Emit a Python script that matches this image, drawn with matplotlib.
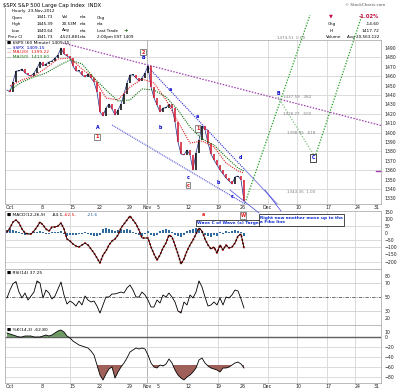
import numpy as np
import matplotlib
matplotlib.use("Agg")
import matplotlib.pyplot as plt

W, H = 400, 392
fig = plt.figure(figsize=(4.0, 3.92), dpi=100)
fig.patch.set_facecolor("white")

# ---------------- data ----------------
session = np.arange(-0.5, 39.01, 0.5)   # half-day bar times (trading days since Oct 1)
close = [1445.3, 1443.2, 1453.8, 1465.5, 1465.5, 1467.7, 1463.4, 1461.3, 1460.2, 1463.4,
         1468.7, 1475.1, 1470.8, 1473.0, 1475.1, 1476.2, 1479.4, 1482.6, 1490.0, 1483.6,
         1481.5, 1479.4, 1470.8, 1465.5, 1465.5, 1461.3, 1459.1, 1462.3, 1458.1, 1453.8,
         1443.2, 1421.9, 1417.6, 1426.2, 1430.4, 1425.1, 1418.7, 1424.0, 1430.4, 1441.1,
         1452.8, 1461.3, 1461.3, 1458.1, 1454.9, 1458.1, 1463.4, 1470.8, 1448.5, 1436.8,
         1429.4, 1421.9, 1426.2, 1426.2, 1430.4, 1426.2, 1411.3, 1390.0, 1377.2, 1376.2,
         1381.5, 1376.2, 1360.2, 1378.3, 1392.1, 1407.0, 1402.8, 1388.9, 1377.2, 1370.8,
         1365.5, 1360.2, 1355.9, 1351.7, 1348.5, 1345.3, 1352.7, 1353.8, 1349.6, 1327.2]

ma_days = [0, 2, 4, 6, 8, 10, 12, 14, 16, 18, 20, 22, 24, 26, 28, 30, 32, 34, 36, 38, 39]
ma_fast = [1449.6, 1456.0, 1460.2, 1468.7, 1478.3, 1479.4, 1467.7, 1458.1, 1436.8, 1434.7,
           1448.5, 1457.0, 1452.8, 1434.7, 1411.3, 1388.9, 1391.0, 1384.7, 1367.6, 1359.1, 1357.0]
ma_slow = [1445.3, 1453.8, 1459.1, 1463.4, 1470.8, 1477.2, 1473.0, 1458.1, 1445.3, 1433.6,
           1434.7, 1446.4, 1445.3, 1437.9, 1424.0, 1405.9, 1393.2, 1386.8, 1374.0, 1362.3, 1359.1]

macd_line = [7, 35, 77, 91, 70, 28, 0, -7, -7, 14, 42, 77, 56, 28, 14, 42, 42, 49, 70, 28,
             -42, -56, -77, -91, -98, -84, -70, -84, -112, -140, -175, -210, -154, -126, -84, -56, -42, -14, 35, 63,
             91, 119, 91, 63, 21, -35, -35, -35, -98, -147, -189, -154, -105, -70, -14, -28, -84, -147, -217, -182,
             -126, -84, -49, -7, 35, 14, -42, -84, -112, -98, -140, -84, -119, -84, -105, -98, -70, -21, -7, -105]
macd_hist = [20, 28, 21, 14, 7, -7, -14, -10, -7, 7, 10, 14, 7, -7, -10, 7, 10, 7, 14, -7,
             -21, -14, -17, -14, -10, -7, 7, -7, -14, -21, -21, -14, 28, 35, 28, 21, 14, 21, 28, 21,
             28, 21, 7, -7, -14, -21, -7, 14, -14, -21, -14, 14, 21, 28, 21, 7, -14, -21, -28, -14,
             14, 21, 28, 35, 28, 14, -14, -21, -28, -14, -21, 7, -7, 14, 7, 14, 21, 14, 7, -21]

rsi = [48.6, 60.0, 69.0, 72.0, 57.1, 48.6, 55.7, 45.7, 51.4, 57.1, 72.9, 70.0, 48.6, 60.0, 55.7,
       47.1, 51.4, 61.4, 71.4, 52.9, 40.0, 44.3, 41.4, 37.1, 44.3, 38.6, 51.4, 45.7, 42.9, 44.3,
       37.1, 27.1, 38.6, 50.0, 50.0, 54.3, 54.3, 55.7, 57.1, 55.7, 62.9, 67.1, 60.0, 50.0, 50.0,
       57.1, 52.9, 45.7, 35.7, 35.7, 45.7, 41.4, 52.9, 50.0, 55.7, 50.0, 42.9, 30.0, 27.1, 42.9,
       38.6, 52.9, 48.6, 57.1, 72.9, 64.3, 50.0, 37.1, 38.6, 42.9, 38.6, 48.6, 38.6, 50.0, 48.6,
       52.9, 60.0, 58.6, 47.1, 34.3]

osc = [8, 6, 4, 2, 0, 0, 2, 2, 2, 0, 0, 0, 2, 4, 2, 4, 8, 12, 14, 10,
       2, -2, -8, -12, -16, -18, -20, -22, -28, -36, -56, -76, -86, -74, -64, -60, -82, -70, -60, -52,
       -42, -30, -26, -22, -24, -22, -24, -36, -52, -60, -62, -56, -58, -54, -44, -52, -66, -76, -82, -86,
       -80, -76, -70, -62, -46, -42, -52, -58, -62, -64, -66, -70, -62, -62, -60, -56, -52, -50, -54, -62]

tick_days = [0, 5.33, 10.33, 15, 20, 22.83, 24.67, 29.67, 34.67, 38.83, 42.83, 48, 53, 58, 61.17]
tick_labels = ["Oct", "8", "15", "22", "29", "Nov", "5", "12", "19", "26", "Dec", "10", "17", "24", "31"]
grid_days = [10, 22.83, 34.67, 43, 47.83, 52.83, 57.5]

price_ticks = list(range(1330, 1491, 10))

# ---------------- layout helpers ----------------
def fx(px):
    return px / W

def fy(py):
    return 1 - py / H

def add_panel(top, bottom, left=5, right=381):
    return fig.add_axes([fx(left), fy(bottom), fx(right - left), (bottom - top) / H])

ax1 = add_panel(40, 204)
ax2 = add_panel(211, 269)
ax3 = add_panel(269, 325)
ax4 = add_panel(325, 383)

for ax in (ax1, ax2, ax3, ax4):
    ax.set_xlim(-0.83, 61.83)
    ax.yaxis.tick_right()
    ax.tick_params(axis="y", length=0, pad=2.5, labelsize=3.3, colors="#222222")
    ax.tick_params(axis="x", length=0, pad=1.0, labelsize=3.4, colors="#222222")
    for s in ax.spines.values():
        s.set_color("#b0b0b0")
        s.set_linewidth(0.6)
    ax.set_xticks(tick_days)
    ax.set_xticklabels(tick_labels)
    for d in grid_days:
        ax.axvline(d, color="#a8a8a8" if d == 22.83 else "#d6d6d6", lw=0.6, zorder=0)
    ax.set_facecolor("white")

for ax in (ax2, ax3):
    ax.set_xticklabels([])

# ---------------- price panel ----------------
ax1.set_ylim(1324.0, 1498.5)
ax1.set_yticks(price_ticks)
ax1.set_yticklabels([str(t) for t in price_ticks])
for g in range(1340, 1481, 20):
    ax1.axhline(g, color="#d6d6d6", lw=0.6, zorder=0)

ax1.plot(session, close, color="#1a2a8a", lw=0.5, zorder=2)
for i in range(1, len(close)):
    o, c = close[i - 1], close[i]
    col = "#d4102a" if c < o else "black"
    lo, hi = min(o, c), max(o, c)
    if hi - lo < 1.2:
        hi = lo + 1.2
    ax1.vlines(session[i], lo, hi, color=col, lw=1.1, zorder=3)

ax1.plot(ma_days, ma_fast, color="#e02020", lw=0.8, ls=(0, (1, 1)), zorder=4)
ax1.plot(ma_days, ma_slow, color="#117011", lw=0.8, ls=(0, (1, 1)), zorder=4)

# trend / channel lines
ax1.plot([8.83, 62.17], [1495.3, 1407.0], color="#a040b0", lw=0.9, ls=(0, (1.2, 1.2)), zorder=2)
ax1.plot([22.83, 39.0], [1470.8, 1361.5], color="#2a2ad0", lw=0.8, ls=(0, (1, 1)), zorder=2)
ax1.plot([39.0, 45.5], [1361.5, 1317.6], color="#9090e8", lw=0.8, zorder=2)
ax1.plot([17.0, 40.0], [1408.1, 1320.8], color="#2a2ad0", lw=0.7, ls=(0, (1, 1)), zorder=2)
# projections
ax1.plot([39.17, 50.0], [1325.1, 1525.1], color="#20a020", lw=0.9, ls=(0, (1, 1.3)), clip_on=False, zorder=2)
ax1.plot([44.67, 50.83], [1437.9, 1374.0], color="#80c080", lw=0.9, ls=(0, (1, 1.3)), zorder=2)
ax1.plot([50.83, 58.67], [1374.0, 1525.1], color="#20a020", lw=0.9, ls=(0, (1, 1.3)), clip_on=False, zorder=2)
ax1.plot([61.0, 61.83], [1359, 1359], color="#a040b0", lw=1.0, clip_on=False)

# fibonacci level labels
fib_txt = [(45.5, 1437.9, "1437.59  .382"), (45.5, 1419.8, "1418.27  .500"),
           (46.2, 1399.6, "1398.95  .618"), (46.2, 1336.8, "1343.35  1.00"),
           (44.5, 1500.6, "1474.51  0.00")]
for d, v, s in fib_txt:
    ax1.text(d, v, s, fontsize=3.0, color="#808080", va="center", ha="left", clip_on=False)

# wave labels (blue)
blue_lbl = [(14.67, 1405.9, "A"), (22.17, 1479.4, "B"), (26.67, 1445.3, "a"), (25.0, 1404.9, "b"),
            (29.67, 1352.7, "c"), (31.17, 1416.6, "a"), (34.67, 1346.4, "b"), (37.0, 1331.5, "c"),
            (38.33, 1373.0, "d"), (44.67, 1442.1, "B")]
for d, v, s in blue_lbl:
    ax1.text(d, v, s, fontsize=3.4, color="#0000cc", fontweight="bold", ha="center", va="center")
ax1.text(50.5, 1373.0, "C", fontsize=3.4, color="#0000cc", fontweight="bold", ha="center", va="center",
         bbox=dict(boxstyle="square,pad=0.25", fc="white", ec="black", lw=0.5))

red_lbl = [(22.17, 1485.7, "2"), (14.5, 1395.3, "1"), (31.3, 1404.0, "1"), (29.67, 1344.2, "c")]
for d, v, s in red_lbl:
    ax1.text(d, v, s, fontsize=3.4, color="#e01010", fontweight="bold", ha="center", va="center",
             bbox=dict(boxstyle="square,pad=0.2", fc="white", ec="#333333", lw=0.4))

# legend text
fig.text(fx(7), fy(43), "\u25a0 $SPX (60 Minute) 1409.15", fontsize=3.2, color="black", va="center")
fig.text(fx(7), fy(47.5), "\u2014 $SPX  1409.15", fontsize=3.2, color="#0000c0", va="center")
fig.text(fx(7), fy(52), "\u2014 MA(20)  1399.22", fontsize=3.2, color="#e01010", va="center")
fig.text(fx(7), fy(56.5), "\u2014 MA(50)  1413.60", fontsize=3.2, color="#117011", va="center")

# ---------------- panel 2 ----------------
ax2.set_ylim(-252, 154)
ax2.set_yticks([150, 100, 50, 0, -50, -100, -150, -200])
for g in (50, -50, -100, -200):
    ax2.axhline(g, color="#d6d6d6", lw=0.6, zorder=0)
ax2.bar(session, macd_hist, width=0.42, color="#2f6aa0", zorder=2)
ax2.plot(session, macd_line, color="#e01010", lw=1.3, ls=(0, (1, 1)), zorder=3)
ax2.plot(session, macd_line, color="black", lw=0.6, zorder=4)
fig.text(fx(7), fy(214.5), "\u25a0 MACD(12,26,9)", fontsize=3.2, color="black", va="center")
fig.text(fx(52), fy(214.5), "-84.1,", fontsize=3.2, color="black", va="center")
fig.text(fx(64), fy(214.5), "-62.5,", fontsize=3.2, color="#e01010", va="center")
fig.text(fx(87), fy(214.5), "-21.6", fontsize=3.2, color="#2f6aa0", va="center")

# ---------------- panel 3 ----------------
ax3.set_ylim(10, 90)
ax3.set_yticks([80, 70, 50, 30, 20])
for g in (70, 30):
    ax3.axhline(g, color="#d0d0d0", lw=0.6, zorder=0)
ax3.axhline(50, color="#555555", lw=0.6, ls=(0, (4, 1.5, 1, 1.5)), zorder=1)
r = np.array(rsi)
ax3.fill_between(session, 70, r, where=r > 70, interpolate=True, color="#6f9a66", lw=0, zorder=2)
ax3.fill_between(session, 30, r, where=r < 30, interpolate=True, color="#a0605a", lw=0, zorder=2)
ax3.plot(session, rsi, color="black", lw=0.6, zorder=3)
fig.text(fx(7), fy(273), "\u25a0 RSI(14) 37.25", fontsize=3.2, color="black", va="center")

# ---------------- panel 4 ----------------
ax4.set_ylim(-92, 24)
ax4.set_yticks([10, 0, -20, -40, -60, -80])
for g in (-20, -40, -60, -80):
    ax4.axhline(g, color="#d6d6d6", lw=0.6, zorder=0)
ax4.axhline(0, color="#606060", lw=1.0, zorder=1)
o4 = np.array(osc)
ax4.fill_between(session, 0, o4, where=o4 > 0, interpolate=True, color="#6f9a66", lw=0, zorder=2)
ax4.fill_between(session, -56, o4, where=o4 < -56, interpolate=True, color="#a0605a", lw=0, zorder=2)
ax4.plot(session, osc, color="black", lw=0.6, zorder=3)
fig.text(fx(7), fy(330), "\u25a0 %K(14,3) -62.80", fontsize=3.2, color="black", va="center")

# ---------------- callouts ----------------
fig.text(fx(243), fy(215.5), "W", fontsize=3.3, color="#e01010", fontweight="bold", ha="center", va="center",
         bbox=dict(boxstyle="square,pad=0.2", fc="white", ec="#333333", lw=0.4))
fig.text(fx(203), fy(214.5), "a", fontsize=3.3, color="#e01010", fontweight="bold", ha="center", va="center")
fig.text(fx(197), fy(223), "Wave C of Wave (x) Target", fontsize=3.1, color="#1030d0", fontweight="bold",
         ha="left", va="center", bbox=dict(boxstyle="square,pad=0.25", fc="white", ec="black", lw=0.5))
fig.text(fx(260), fy(220), "Right now another move up to the\na Fibo line", fontsize=3.1, color="#1030d0",
         fontweight="bold", ha="left", va="center", linespacing=1.3,
         bbox=dict(boxstyle="square,pad=0.3", fc="white", ec="black", lw=0.5))
fig.add_artist(plt.Line2D([fx(230), fx(259)], [fy(190), fy(213)], color="#4040e0", lw=0.5))
fig.add_artist(plt.Line2D([fx(265), fx(281)], [fy(190), fy(211)], color="#4040e0", lw=0.5))

# ---------------- header ----------------
fig.text(fx(3), fy(5), "$SPX S&P 500 Large Cap Index  INDX", fontsize=3.8, color="black", va="center")
fig.text(fx(345), fy(5), "\u00a9 StockCharts.com", fontsize=3.0, color="#555555", va="center")
fig.add_artist(plt.Line2D([fx(5), fx(5)], [fy(8), fy(40)], color="#b0b0b0", lw=0.6))

rows = [
    (11, [(12, "Hourly  23-Nov-2012")]),
    (17.5, [(12, "Open"), (37, "1441.73"), (62, "Vol"), (80, "n/a"), (97, "Chg")]),
    (24, [(12, "High"), (37, "1445.39"), (62, "20.53M"), (80, "n/a"), (97, "n/a")]),
    (30.5, [(12, "Low"), (37, "1440.64"), (62, "Avg"), (80, "n/a"), (97, "Last Trade")]),
    (37, [(8, "Prev Cl"), (37, "1441.73"), (60, "4,523,881"), (80, "n/a"), (97, "2:00pm EST 1409")]),
]
for yy, items in rows:
    for xx, s in items:
        fig.text(fx(xx), fy(yy), s, fontsize=3.0, color="black", va="center")
fig.text(fx(123), fy(30.5), "+", fontsize=4.0, color="#207020", fontweight="bold", va="center")

fig.text(fx(331), fy(16), "\u25bc", fontsize=3.6, color="#c01040", ha="center", va="center")
fig.text(fx(379), fy(16), "-1.02%", fontsize=3.8, color="#c01040", fontweight="bold", ha="right", va="center")
fig.text(fx(328), fy(24), "Chg", fontsize=3.0, color="black", va="center")
fig.text(fx(379), fy(24), "-14.60", fontsize=3.1, color="black", ha="right", va="center")
fig.text(fx(330), fy(30.5), "Hi", fontsize=3.0, color="black", va="center")
fig.text(fx(379), fy(30.5), "1417.72", fontsize=3.1, color="black", ha="right", va="center")
fig.text(fx(326), fy(37), "Volume", fontsize=3.0, color="black", va="center")
fig.text(fx(379), fy(37), "Avg 20,563,122", fontsize=3.0, color="black", ha="right", va="center")

fig.savefig("out.png", dpi=100, facecolor="white")
